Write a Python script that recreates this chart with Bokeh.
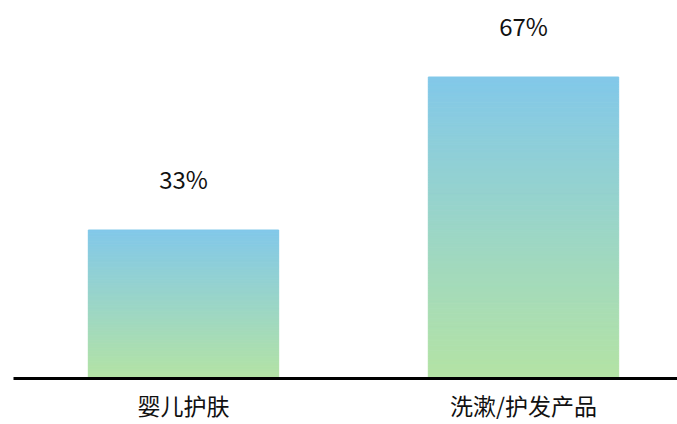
from bokeh.plotting import figure
from bokeh.models import Range1d, FixedTicker
from bokeh.embed import file_html
from bokeh.resources import INLINE
from bokeh.core.properties import value

# ---- data ----
categories = ["婴儿护肤", "洗漱/护发产品"]
shares = [33, 67]
share_labels = ["33%", "67%"]

# ---- style ----
top_rgb = (130, 200, 233)
bottom_rgb = (180, 227, 164)
n_slices = 120
bar_half_width = 0.28
FONT = "Noto Sans CJK SC"

x_pos = [i + 0.5 for i in range(len(categories))]

p = figure(width=677, height=424, output_backend="svg", toolbar_location=None,
           x_range=Range1d(0, 664 / 340), y_range=Range1d(0, 84),
           min_border_left=13, min_border_right=0, min_border_top=0,
           min_border_bottom=46)


def mix(t):
    r = [round(b + (a - b) * t) for a, b in zip(top_rgb, bottom_rgb)]
    return "#%02x%02x%02x" % tuple(r)


lefts, rights, bottoms, tops, colors = [], [], [], [], []
for xc, v in zip(x_pos, shares):
    for k in range(n_slices):
        lefts.append(xc - bar_half_width)
        rights.append(xc + bar_half_width)
        bottoms.append(v * k / n_slices)
        tops.append(v * (k + 1) / n_slices)
        colors.append(mix((k + 0.5) / n_slices))

p.quad(left=lefts, right=rights, bottom=bottoms, top=tops,
       fill_color=colors, line_color=colors, line_width=1)

p.text(x=x_pos, y=shares, text=share_labels, text_align="center",
       text_baseline="alphabetic", y_offset=-52, text_font_size="24px",
       text_font=value(FONT), text_color="#111111")

p.yaxis.visible = False
p.grid.visible = False
p.outline_line_color = None

ax = p.xaxis[0]
ax.ticker = FixedTicker(ticks=x_pos)
ax.major_label_overrides = {x: c for x, c in zip(x_pos, categories)}
ax.axis_line_width = 3
ax.axis_line_color = "black"
ax.major_tick_line_color = None
ax.minor_tick_line_color = None
ax.major_tick_out = 0
ax.major_tick_in = 0
ax.major_label_standoff = 9
ax.major_label_text_font = FONT
ax.major_label_text_font_size = "23px"
ax.major_label_text_color = "#111111"

open("out.html", "w").write(file_html(p, INLINE))
